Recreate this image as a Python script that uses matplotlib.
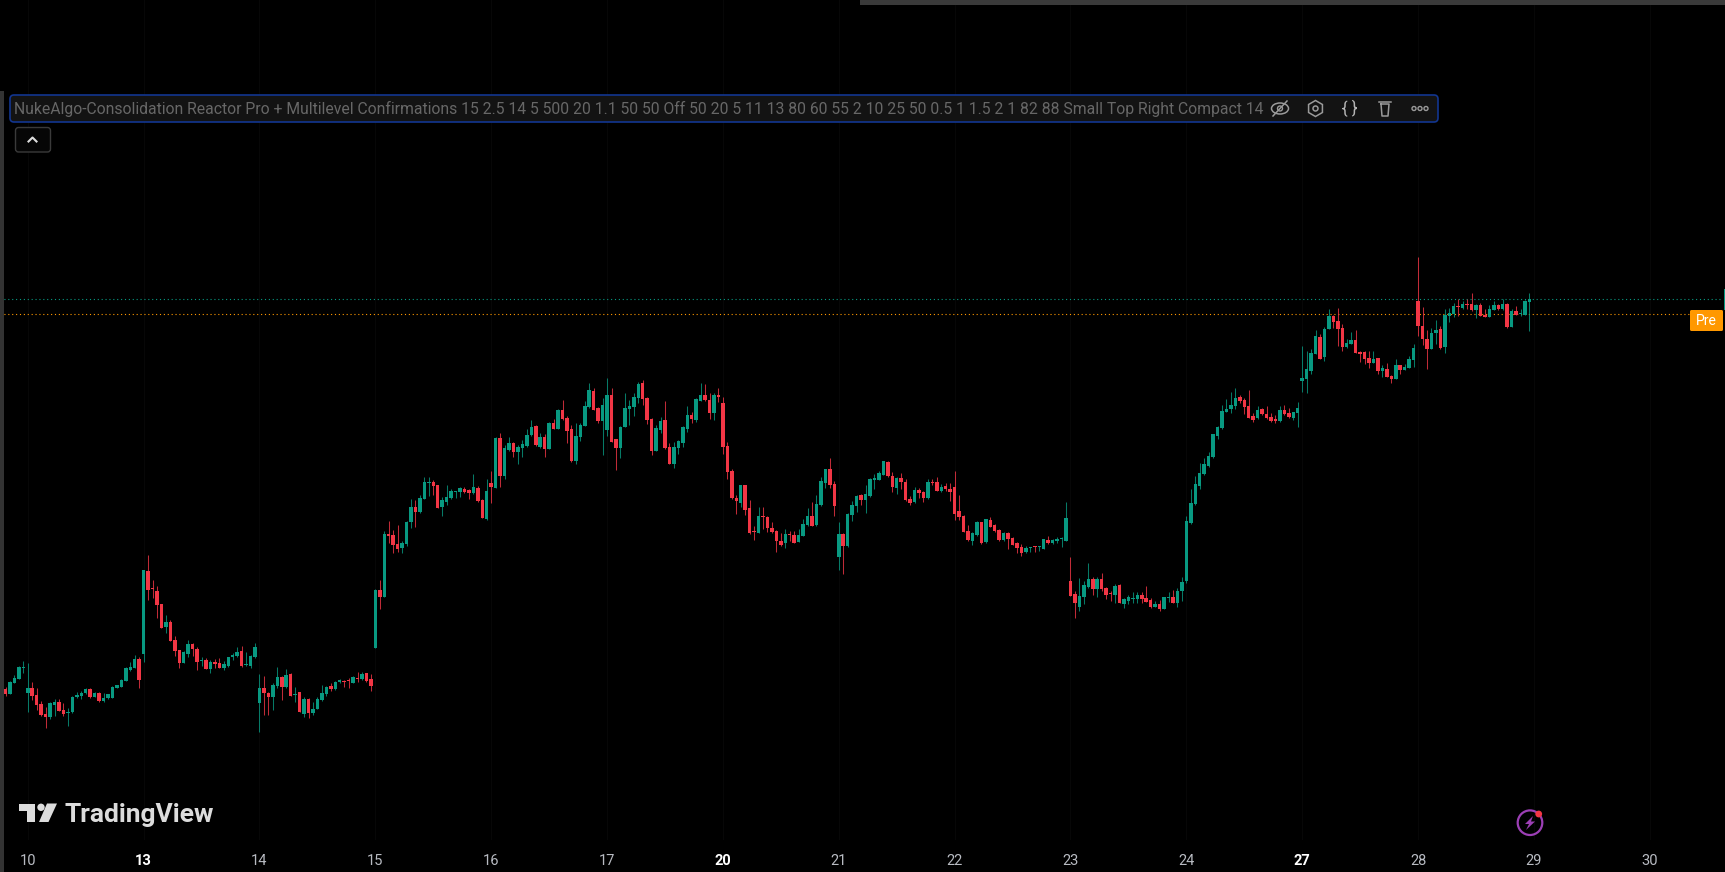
import numpy as np
from matplotlib import pyplot as plt
from matplotlib.patches import Circle, Ellipse, FancyBboxPatch, Polygon, RegularPolygon

# 15 sessions of candles, 26 bars a day. prices are chart units (no price axis visible)
opens = [182.7,178,189.3,193.3,204.3,179.3,184.3,177,168,158,
154.7,167,170.3,162,159.3,159.7,175.3,176.3,178.7,183,
175.3,179.3,170.7,173.7,174.3,184.3,185.3,191.3,202,204.3,
212.7,218,301,283.7,281,268.3,245,250.3,232,221.7,
209,217.7,228.3,223.3,211.3,212.3,203.3,210.3,209.3,203.7,
205.7,214.7,216,221,207.3,206.3,214.7,169.3,184,179,
175.3,185.7,195,184.7,198.3,177.3,180,158,173.3,158.7,
163,172,177.7,186.3,182.7,190.3,191,192,189.3,194,
193,198.7,193,224.3,282,275,338,336.7,327.7,324.3,
328,349.7,364.7,359.7,373.3,388.7,389.7,386.7,365,370.3,
373.7,380,379.7,383,381.7,378.7,384.3,372,353.3,389.3,
383.7,434.3,396,422,428.7,419.7,423.7,426,436.7,445.7,
425.3,435.3,423.3,449.3,443.3,462,453.7,442.7,410.7,435.3,
446.3,465,481.3,463.7,451.3,442.3,477.3,432.7,423.7,445.3,
463,465,473.7,489,474.3,453.3,421.3,442,452,425.3,
408.3,424.3,429.3,443,457.3,452,471.3,477,472,459.3,
477.3,469.3,426.3,401,373.7,369.3,386.7,363.7,341,339,
356,355,343.7,341,330.7,328.7,338,336.7,330,336,
347,355.7,346.7,366.7,388.7,402.7,388,315.3,338,325.7,
357,365.7,377,371.7,376.3,392,392.3,397,410.3,396,
384.3,393.7,390.3,373,370,382,380,373.7,390.3,389.7,
381.3,385.7,383.3,384.7,360.7,356,340.7,331,336.7,349.7,
329.7,352,347,341.7,331.7,338.7,334,329,325,319.7,
324.3,325.3,324.7,323,331.7,329,331.3,332.7,331,291,
278,264.7,275,284.7,293,283,293,284.3,279.3,277,
287,267.7,271,273,273,277,273.7,272.3,265,268,
263,274,274.7,269,281,291,348.7,368,386.3,397.7,
406,415.3,436.3,443.7,460.3,462.7,466,474.7,472.3,466,
456.3,453.7,462.7,458.3,455.3,452.7,450.7,462,459.3,454,
458.7,491,493,501.3,518.3,535,514.7,543,556,551,
544,525.3,528.3,532,520.3,520.3,514.3,509.3,514,501,
503,496.3,493.3,507,502,504,512,571,546,533,
523,539,543,525,556,558,566,563.7,568,568,
562,567,557.3,555,562.3,567,563,568,545,561,558.3,557.3,570.3]
closes = [178,190.3,193.7,205.3,205,184.3,176,167,157,155.3,
169.3,170.3,161.3,157.7,160,175.3,177,179,183.3,175,
179.3,170.7,174,177.7,185.3,186.7,192,203.7,205.3,213,
192,302,282,283,267,243.7,249.7,231,221,209,
220.3,228.3,223,209.7,212,203.3,210.3,208,203.7,208,
215,217,220,206,208,216,225,184.3,179.3,175.3,
187,195,185.3,197,176.3,178,160.3,173.3,158.7,163,
173.3,179.3,185.3,182.7,190.3,191.7,190.3,191,195.3,193.3,
198.3,191,186.3,282,275,338,336.3,327,322.7,328.7,
350,364.7,359.7,374,389.7,390,386,364.3,372,374.7,
381,381,383.7,380,378.7,384.7,370.7,354,380.7,384.7,
434.3,396.3,423.7,428.7,419.7,424.7,427.7,437.3,445.3,426.7,
435.3,423.3,449.3,443.3,462.3,452.7,441.3,410.7,436.3,447.3,
466.3,482,462.3,451,467,477,430.3,423.7,445.3,464.3,
466.3,475.3,488.3,473,452,421.3,444.3,451.3,424,408.3,
425,431.3,444.7,457.3,453,472.7,477,472,459.3,477,
475.3,425.3,399.7,373.7,371,386.7,362,338.7,340,356,
355.3,344.3,339.7,331,327.3,338,336.7,329.3,336.7,347.7,
355.7,346,368,390.7,402.7,387,365.7,338,326,358.3,
367,376.3,371.7,378,393,394.3,398.7,411,396,384.7,
394,389.7,371.7,368.7,382,378.7,373.7,389.7,388.7,381.3,
385.3,382.7,380,358,355,340.3,331.7,338.7,349.7,328.7,
352.7,345.3,340.7,331.7,339.3,333,327.3,324,318.7,324.3,
325,324.7,325.3,332.7,329,331.7,332.7,333.3,353.7,276,
269,276,287,293,283,293,283,277,278.3,286,
269.3,273,275.3,273.7,277,273,270.3,265,268,262.7,
274.7,274.7,269.3,281.3,289.7,350.7,368.7,387.7,398.7,407.7,
416.3,437.7,444.7,460.7,463,467.3,474,471,465.3,454.3,
452.3,462,457.7,453.7,451,451.3,462,457.7,454.7,459.7,
464.3,494,502.7,519,536,513.3,543,556,550.3,543,
525.3,529.3,532,519,518.3,513,509,513,501.3,504,
495.3,493.3,507,502,505.3,513,524,546,533,523,
539,542,524,557.3,558.7,566,565.3,568,567,562,
567,556.3,555.3,562.7,567,563,568,544.7,561,557,559,571,572.7]
highs = [184.7,190.8,197,206.3,211,209.3,190.3,183.7,171,165.3,
170.3,173.3,173.3,169.3,163.7,176.3,179.7,181.3,184,183.7,
180.3,180,178.7,178.3,186.3,187,193,205.3,209.7,216.7,
215.3,302.3,317,292,286,268.3,257,252,236,221.7,
221,232,229,225,214.7,213.7,211.7,213,213.7,211,
215.3,219.3,225,226,220,217,229,198,196,180.3,
188.7,205.3,196,203,199,184.7,180.3,174.7,173.7,170.3,
174.7,187,186,188.7,191,193.3,192,193.7,196.3,200.3,
200,199.3,198,282.7,292,341,350.7,342,347,331,
350.7,372.7,372,377,395,395,392,387.3,374.7,386.7,
382.7,381.3,384.7,384.7,383,397.7,386,372.7,392.7,401.3,
434.7,439.3,427,435.3,430.3,427,432,442.7,452,447,
439.3,438,450,452.7,462.7,472,456,447,448.7,449.3,
471,489.3,483.7,465.3,474.3,494.3,484.3,433.3,446,478.7,
472,478.7,490.3,492,474.7,454,447,454.7,471.3,429.3,
430.3,432,446.3,466.3,460.3,474.3,489.3,488,478.7,478.7,
484.3,475.3,430.3,402.7,377,386.7,386.7,372,346.3,364.7,
364.7,356,350.3,342,338.7,342.7,341,341.3,342.7,353,
363.7,369.7,377,394.7,403,413.7,391.3,349.7,338.7,358.7,
371.3,377,378,387,393.7,397.7,401.3,411.3,411,399.7,
394.7,398.7,392.7,376,384.7,383.7,381,392.7,393,395,
388,388.7,388.7,401,377,357,347,340.3,351,350.3,
353,354.7,348,342.7,340,339.7,334.7,329.7,327.7,326,
325,326.3,326.3,333,336,333,334.7,334.7,369.7,315,
280.7,293.7,291,308.7,295,295,298.7,285.3,281,288,
287.7,273.7,277,279.7,279.7,279.7,286,273.7,271,272,
275,279.7,282,283.7,294.7,356,382.7,396,408.7,414.3,
420.3,438,446.3,467,473,480,484,477,474.3,482,
458.7,466,464.3,466,459.3,457.3,466.3,467.3,464.3,460.3,
470,526,521,523,542,538,544.7,563,556.7,563.7,
547.7,533,539.7,542,521,521,521,521,514.3,507,
509.3,497,513,507.3,508,516,528,614.7,565,542,
543.7,552,546,563,563.7,568.7,572.7,571,572.7,578.7,
567.7,568.7,563,567,571,568,572.7,568.7,563,566,563,571.7,579]
lows = [176,178,189,193,198.7,160.3,172,162,156.3,144.3,
152.7,156,161,156.3,146.3,158.7,173.7,173,178,174.3,
175,170.3,170,172.7,173.7,183.7,184.7,190.7,201.3,203.7,
184.3,209.7,272,274.3,253.7,243.7,239.3,231,216,204.3,
209,215.3,216.3,202,206.3,203,199.3,203.7,203.7,202,
205.3,212,215.3,205.3,206,204.3,214.3,140.3,157,157,
162,183.7,172,183.7,176,170.3,160,155.3,154,157,
162.7,171.3,176.3,181.3,182,188.7,185.3,184,188.7,190,
192,190.3,181.3,224.3,263,275,328.7,319.3,320.3,319.3,
326.3,344.3,345.3,359.3,372.7,376,377,363.7,356,367,
373.3,373.7,374.7,378.7,373,378.3,369.7,353.7,352,368.7,
383.7,384.7,392.7,421.3,414.7,407.7,414.7,425.3,436,426,
424.3,415.3,422.7,443,443,452,429.3,410.3,407.7,431,
446,464.3,462,449.3,417,436,430,402,414.3,445,
447,456,468.7,467,448,417,421,439.3,422.7,408,
404.3,418,424.7,440.3,449.3,449.7,471,471.3,453,452,
470.3,417.7,392.7,373.3,357.7,365.3,357,338,332,338.7,
343,340,339.3,320.3,326,323.7,331.3,328.7,329.7,335.7,
346.3,345.7,346.3,366.3,383.7,383.7,356,302,298,325.3,
351,359.7,367,358.7,375.3,382.7,392,396.7,395.3,380.3,
377.7,382.7,371.3,366.7,369.3,374.3,369.7,373.3,387,380.7,
380,381,371.3,352,352,340,331,327,336,328,
329.3,344.7,340,331,331.3,322.7,327,318.7,316,318.7,
320.3,320,321,322.7,328.3,327.7,329.3,325,330.7,275.7,
254,261,268,284.3,277,275,281,273,271,269.3,
268.7,264.3,268,269.3,269.3,268.7,270,264.3,264.7,261.3,
262.7,269.7,269,265.3,271,289.3,348.3,367.3,383.3,397.3,
404.7,414,433.3,443.3,459.7,458.7,462.7,468.7,458,454,
450.3,453.3,457,453,450.3,449.3,450.3,457,454,452,
445.3,480.3,479.3,498,518,512.7,511.3,542.7,544.3,526,
521.3,524.3,528,518.7,510.3,508,504.3,509,498.3,495.3,
495,489.3,493,498,501.7,503.7,505,536,527,503,
522.7,528,523,519.3,550,555,555.7,563.3,563,561.3,
554.3,556,554.7,554.7,562,562.3,562.3,544,544.7,556.7,556,557,541.3]

day_labels = ['10','13','14','15','16','17','20','21','22','23','24','27','28','29','30']
day_bars = [5,31,57,83,109,135,161,187,213,239,265,291,317,343,369]
bold_days = ['13','20','27']
line_teal = 572.7
line_pre = 557.7
legend_text = ('NukeAlgo-Consolidation Reactor Pro + Multilevel Confirmations 15 2.5 14 5 500 20 1.1 50 50 Off '
               '50 20 5 11 13 80 60 55 2 10 25 50 0.5 1 1.5 2 1 82 88 Small Top Right Compact 14')

UP = '#089981'
DOWN = '#F23645'
W, H = 1725, 872
BAR0, STEP = 5.5, 4.456   # px of first bar, px per bar
AXIS_H = 32               # px strip under the candles for the dates

plt.rcParams['font.family'] = ['Roboto', 'DejaVu Sans']
fig = plt.figure(figsize=(W/100, H/100), dpi=100, facecolor='black')

ax = fig.add_axes([0, AXIS_H/H, 1, 1-AXIS_H/H], facecolor='black')
ax.set_xlim(-BAR0/STEP, (W-BAR0)/STEP)
ax.set_ylim(AXIS_H, H)

o, c, hi, lo = map(np.array, (opens, closes, highs, lows))
x = np.arange(len(o))
cols = np.where(c >= o, UP, DOWN)
ax.vlines(x, lo, hi, colors=cols, lw=0.75, alpha=0.8, zorder=3)
ax.bar(x, np.maximum(np.abs(c-o), 0.8), bottom=np.minimum(o, c), width=0.78, color=cols, linewidth=0, zorder=4)

ax.axhline(line_teal, color=UP, lw=0.8, ls=(0, (1, 2.5)), xmax=1720/W, zorder=2)
ax.axhline(line_pre, color='#FF9800', lw=0.8, ls=(0, (1, 2.5)), xmax=1690/W, zorder=2)

ax.set_xticks(day_bars)
ax.set_xticklabels(day_labels)
ax.set_yticks([])
ax.tick_params(axis='x', length=0, pad=10, labelsize=10.5, labelcolor='#b8bbc2')
for lab in ax.get_xticklabels():
    if lab.get_text() in bold_days:
        lab.set_fontweight('bold')
        lab.set_color('white')
ax.grid(axis='x', color='#070707', lw=0.8)
ax.set_axisbelow(True)
for s in ax.spines.values():
    s.set_visible(False)

# screen furniture, in pixels
ui = fig.add_axes([0, 0, 1, 1], facecolor='none')
ui.set_xlim(0, W)
ui.set_ylim(H, 0)
ui.axis('off')

ui.fill_between([0, 4], 91, H, color='#333333', lw=0)
ui.fill_between([860, W], 0, 5, color='#3a3a3a', lw=0)

# indicator legend
ui.add_patch(FancyBboxPatch((10, 95), 1428, 27, boxstyle='round,pad=0,rounding_size=4',
                            fc='#131313', ec='#12358f', lw=1.2))
ui.text(14.5, 109, legend_text, color='#676767', fontsize=11.3, va='center', ha='left')

ic = '#9a9a9a'
ui.add_patch(Ellipse((1280, 108.5), 17, 11, fc='none', ec=ic, lw=1.1))
ui.add_patch(Circle((1280, 108.5), 2.5, fc='none', ec=ic, lw=1))
ui.plot([1273, 1287], [116, 101], color=ic, lw=1.1)
ui.add_patch(RegularPolygon((1315.5, 108.5), 6, radius=8, fc='none', ec=ic, lw=1.1))
ui.add_patch(Circle((1315.5, 108.5), 2.5, fc='none', ec=ic, lw=1.1))
ui.text(1350, 108, '{ }', color='#b5b5b5', fontsize=12, ha='center', va='center')
ui.plot([1381, 1382, 1388, 1389, 1381], [104, 116, 116, 104, 104], color=ic, lw=1.1)
ui.plot([1379, 1391], [102.5, 102.5], color=ic, lw=1.1)
for dx in [1414, 1420, 1426]:
    ui.add_patch(Circle((dx, 108.5), 2, fc='none', ec=ic, lw=1))

# collapse button
ui.add_patch(FancyBboxPatch((15.5, 127.5), 35, 24.5, boxstyle='round,pad=0,rounding_size=3',
                            fc='#060606', ec='#3a3a3a', lw=1))
ui.plot([28.5, 32.5, 36.5], [141.5, 137.5, 141.5], color='#dddddd', lw=1.5)

# Pre badge
ui.add_patch(FancyBboxPatch((1690, 310), 33, 21, boxstyle='round,pad=0,rounding_size=1.5',
                            fc='#FF9800', ec='none'))
ui.text(1706, 320.5, 'Pre', color='white', fontsize=10, ha='center', va='center')
ui.fill_between([1724, W], 289, 310, color=UP, lw=0)

# TradingView mark
logo = '#dcdcdc'
ui.add_patch(Polygon([(19, 803.5), (35, 803.5), (35, 822), (27, 822), (27, 811), (19, 811)], fc=logo, ec='none'))
ui.add_patch(Circle((41, 807.3), 3.7, fc=logo, ec='none'))
ui.add_patch(Polygon([(47, 803.5), (57, 803.5), (48.5, 822), (39, 822)], fc=logo, ec='none'))
ui.text(64.5, 815, 'TradingView', color=logo, fontsize=19, fontweight='bold', ha='left', va='center')

# replay icon
ui.add_patch(Circle((1530, 822.7), 12.3, fc='none', ec='#9C3FB5', lw=1.6))
ui.add_patch(Polygon([(1533, 816), (1525, 824), (1529, 824), (1526, 830), (1535, 821.5), (1531, 821.5)],
                     fc='#9C3FB5', ec='none'))
ui.add_patch(Circle((1538.7, 814), 3.4, fc='#F23645', ec='none'))

plt.savefig('out.png', dpi=100, facecolor='black')
